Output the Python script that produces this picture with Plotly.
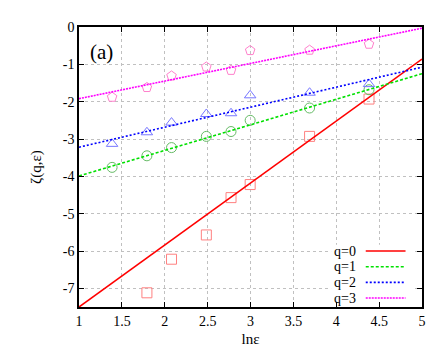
import numpy as np
import plotly.graph_objects as go

# ---- data ----
ln_eps = [1.386, 1.792, 2.079, 2.485, 2.773, 2.996, 3.689, 4.382]
zeta_q0 = [None, -7.12, -6.22, -5.57, -4.57, -4.22, -2.93, -1.93]
zeta_q1 = [-3.76, -3.45, -3.23, -2.93, -2.80, -2.50, -2.17, -1.68]
zeta_q2 = [-3.13, -2.82, -2.56, -2.33, -2.31, -1.83, -1.76, -1.53]
zeta_q3 = [-1.88, -1.62, -1.31, -1.07, -1.16, -0.63, -0.62, -0.46]
fit_slope = [1.66, 0.685, 0.536, 0.472]
fit_intercept = [-9.16, -4.675, -3.756, -2.392]
fit_x = [1, 5]
labels = ["q=0", "q=1", "q=2", "q=3"]
x_ticks = [1, 1.5, 2, 2.5, 3, 3.5, 4, 4.5, 5]
y_ticks = [0, -1, -2, -3, -4, -5, -6, -7]

series = [zeta_q0, zeta_q1, zeta_q2, zeta_q3]
line_colors = ["#ff0000", "#00e000", "#0000ff", "#ff00ff"]
line_dash = ["solid", "3px,2px", "2px,2px", "2px,1px"]
marker_colors = ["#ff8080", "#66bb66", "#7777ff", "#ff80cc"]
marker_symbols = ["square-open", "circle-open", "triangle-up-open", "pentagon-open"]

FONT = "Liberation Serif"

fig = go.Figure()
for i in range(4):
    fig.add_trace(go.Scatter(
        x=ln_eps, y=series[i], mode="markers",
        marker=dict(symbol=marker_symbols[i], size=10, color=marker_colors[i],
                    line=dict(width=1, color=marker_colors[i])),
        showlegend=False, cliponaxis=False))
fx = np.array(fit_x, dtype=float)
for i in range(4):
    fig.add_trace(go.Scatter(
        x=fx, y=fit_slope[i] * fx + fit_intercept[i], mode="lines",
        line=dict(color=line_colors[i], width=1.6, dash=line_dash[i]),
        name=labels[i], showlegend=False))

axis_common = dict(
    showline=True, linecolor="black", linewidth=1.5, mirror="ticks",
    ticks="inside", ticklen=5, tickcolor="black", tickwidth=1,
    showgrid=True, gridcolor="#c0c0c0", griddash="dot", gridwidth=1,
    zeroline=False, tickfont=dict(family=FONT, size=14, color="black"),
)
fig.update_xaxes(range=[1, 5], tickvals=x_ticks,
                 ticktext=[f"{v:g}" for v in x_ticks],
                 title=dict(text="lnε", font=dict(family=FONT, size=15, color="black"),
                            standoff=6),
                 **axis_common)
fig.update_yaxes(range=[-7.5, 0], tickvals=y_ticks,
                 ticktext=[f"{v:g}" for v in y_ticks],
                 title=dict(text="ζ(q,ε)", font=dict(family=FONT, size=15, color="black"),
                            standoff=18),
                 **axis_common)

# legend box (gnuplot style: label left, sample right)
shapes = [dict(type="rect", xref="paper", yref="paper", x0=0.735, x1=0.975,
               y0=0.018, y1=0.222, fillcolor="white", line=dict(width=0),
               layer="above")]
annotations = [dict(text="(a)", xref="paper", yref="paper", x=0.025, y=0.91,
                    xanchor="left", yanchor="middle", showarrow=False,
                    font=dict(family=FONT, size=21, color="black"))]
row_top = 0.2
row_gap = 0.056
for i in range(4):
    yy = row_top - i * row_gap
    annotations.append(dict(text=labels[i], xref="paper", yref="paper", x=0.81, y=yy,
                            xanchor="right", yanchor="middle", showarrow=False,
                            borderpad=0,
                            font=dict(family=FONT, size=14, color="black")))
    shapes.append(dict(type="line", xref="paper", yref="paper", x0=0.836, x1=0.952,
                       y0=yy, y1=yy, layer="above",
                       line=dict(color=line_colors[i], width=1.6, dash=line_dash[i])))

fig.update_layout(
    width=436, height=349,
    margin=dict(l=71, r=22, t=16, b=47),
    paper_bgcolor="white", plot_bgcolor="white",
    shapes=shapes, annotations=annotations,
    font=dict(family=FONT, color="black"),
)
fig.write_html("out.html")
